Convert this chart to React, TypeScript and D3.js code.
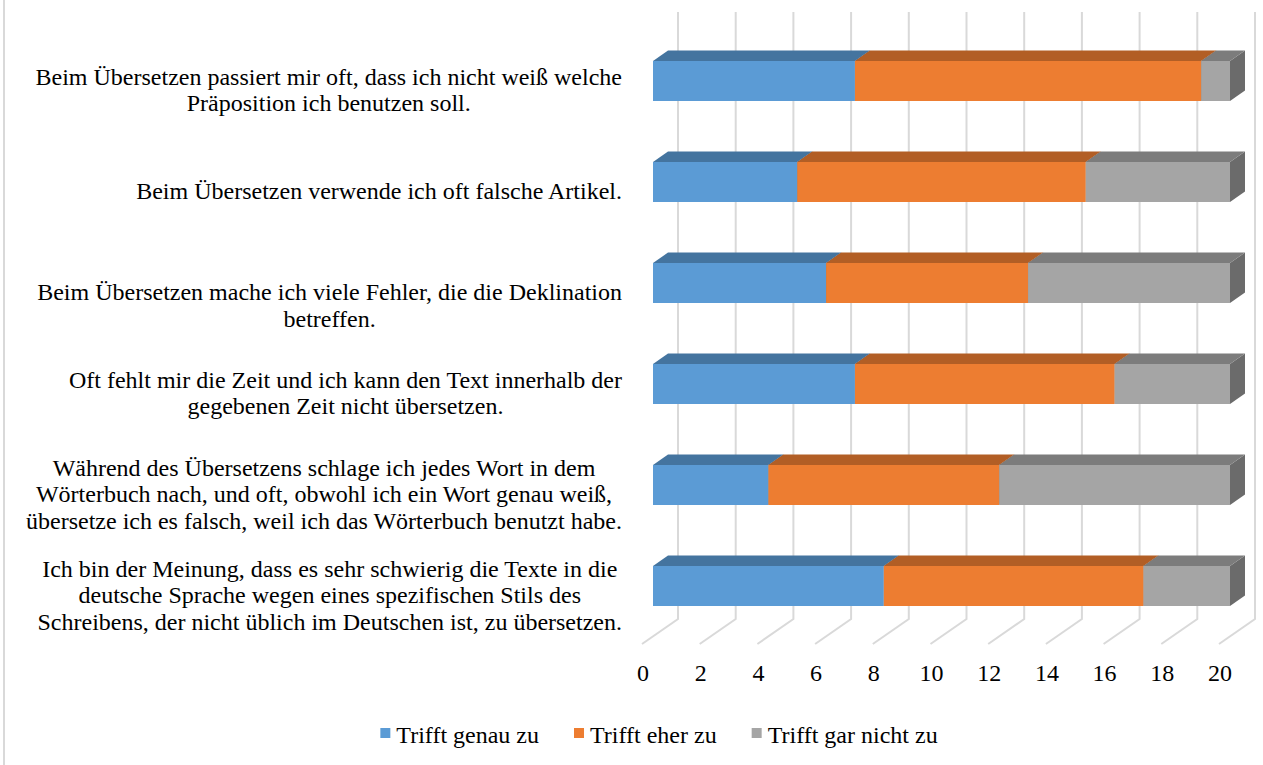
import { useEffect, useRef } from "react";
import * as d3 from "d3";

// category labels, already wrapped the way the original shows them
// (the third one starts with an empty line in the source workbook)
const categoryLines: string[][] = [
  ["Beim Übersetzen passiert mir oft, dass ich nicht weiß welche", "Präposition ich benutzen soll."],
  ["Beim Übersetzen verwende ich oft falsche Artikel."],
  ["", "Beim Übersetzen mache ich viele Fehler, die die Deklination", "betreffen."],
  ["Oft fehlt mir die Zeit und ich kann den Text innerhalb der", "gegebenen Zeit nicht übersetzen."],
  [
    "Während des Übersetzens schlage ich jedes Wort in dem",
    "Wörterbuch nach, und oft, obwohl ich ein Wort genau weiß,",
    "übersetze ich es falsch, weil ich das Wörterbuch benutzt habe.",
  ],
  [
    "Ich bin der Meinung, dass es sehr schwierig die Texte in die",
    "deutsche Sprache wegen eines spezifischen Stils des",
    "Schreibens, der nicht üblich im Deutschen ist, zu übersetzen.",
  ],
];

const seriesNames = ["Trifft genau zu", "Trifft eher zu", "Trifft gar nicht zu"];
const genauZu = [7, 5, 6, 7, 4, 8];
const eherZu = [12, 10, 7, 9, 8, 9];
const garNichtZu = [1, 5, 7, 4, 8, 3];
const xTicks = [0, 2, 4, 6, 8, 10, 12, 14, 16, 18, 20];

const front = ["#5b9bd5", "#ed7d31", "#a5a5a5"];
const top = ["#44749f", "#b25e25", "#7c7c7c"];
const side = ["#3a6489", "#9a5120", "#6b6b6b"];

export default function App() {
  const svgRef = useRef<SVGSVGElement | null>(null);

  useEffect(() => {
    if (!svgRef.current) return;
    const width = 1263;
    const height = 765;
    const font = '"Liberation Serif", "Times New Roman", "DejaVu Serif", serif';

    const svg = d3.select(svgRef.current).attr("width", width).attr("height", height);
    svg.selectAll("*").remove();

    // 3D projection: floor front -> back wall
    const floorFrontX = 642;
    const depthX = 36;
    const depthY = -25;
    const barFrontT = 11 / 36;
    const barBackT = 26 / 36;
    const floorFrontY = 644;
    const wallTop = 12;

    const x = d3.scaleLinear().domain([0, 20]).range([0, 577]);
    const y = d3
      .scaleBand<number>()
      .domain(d3.range(categoryLines.length))
      .range([30.5, 636.5])
      .paddingInner(0.604)
      .paddingOuter(0.302);

    const px = (v: number, t: number) => floorFrontX + x(v) + depthX * t;

    // chart border (left edge only visible)
    svg
      .append("line")
      .attr("x1", 4).attr("x2", 4).attr("y1", 0).attr("y2", height)
      .attr("stroke", "#d9d9d9").attr("stroke-width", 2);

    // gridlines: back wall + floor
    const grid = svg.append("g").attr("fill", "none").attr("stroke", "#d9d9d9").attr("stroke-width", 2);
    xTicks.forEach((v) => {
      grid
        .append("path")
        .attr(
          "d",
          `M${px(v, 1)},${wallTop} L${px(v, 1)},${floorFrontY + depthY} L${px(v, 0)},${floorFrontY}`
        );
    });

    // stacked 3D bars
    const series = [genauZu, eherZu, garNichtZu];
    const stack = d3
      .stack<number>()
      .keys([0, 1, 2] as any)
      .value((i: number, k: any) => series[k][i]);
    const stacked = stack(d3.range(categoryLines.length));

    const bars = svg.append("g");
    const dy = depthY * (barBackT - barFrontT);
    d3.range(categoryLines.length).forEach((i) => {
      const yT = y(i)!;
      const yB = yT + y.bandwidth();
      stacked.forEach((s: any, k: number) => {
        const v0 = s[i][0];
        const v1 = s[i][1];
        const fx0 = px(v0, barFrontT);
        const fx1 = px(v1, barFrontT);
        const bx0 = px(v0, barBackT);
        const bx1 = px(v1, barBackT);
        // right side
        bars
          .append("path")
          .attr("d", `M${fx1},${yT} L${bx1},${yT + dy} L${bx1},${yB + dy} L${fx1},${yB} Z`)
          .attr("fill", side[k]);
        // top face
        bars
          .append("path")
          .attr("d", `M${fx0},${yT} L${bx0},${yT + dy} L${bx1},${yT + dy} L${fx1},${yT} Z`)
          .attr("fill", top[k]);
        // front face
        bars
          .append("rect")
          .attr("x", fx0)
          .attr("y", yT)
          .attr("width", fx1 - fx0)
          .attr("height", y.bandwidth())
          .attr("fill", front[k]);
      });
    });

    // category labels: block right-aligned, lines centred in block
    const lineH = 26.5;
    const labels = svg.append("g").style("font-family", font).attr("font-size", 24).attr("fill", "#000");
    categoryLines.forEach((lines, i) => {
      const cy = y(i)! + y.bandwidth() / 2 + 9;
      const g = labels.append("g");
      const texts = lines.map((ln, j) =>
        g
          .append("text")
          .attr("text-anchor", "middle")
          .attr("y", cy + (j - (lines.length - 1) / 2) * lineH + 8)
          .text(ln)
      );
      const maxW = d3.max(texts, (t) => (t.node() as SVGTextElement).getComputedTextLength()) || 0;
      texts.forEach((t) => t.attr("x", 622 - maxW / 2));
    });

    // value axis labels
    svg
      .append("g")
      .style("font-family", font)
      .attr("font-size", 24)
      .attr("text-anchor", "middle")
      .selectAll("text")
      .data(xTicks)
      .join("text")
      .attr("x", (d: number) => px(d, 0) + 1)
      .attr("y", 681)
      .text((d: number) => `${d}`);

    // legend
    const legend = svg.append("g").style("font-family", font).attr("font-size", 24);
    const items = seriesNames.map((name, k) => {
      const g = legend.append("g");
      g.append("rect").attr("x", 0).attr("y", -15).attr("width", 10).attr("height", 10).attr("fill", front[k]);
      const t = g.append("text").attr("x", 16).attr("y", 0).text(name);
      const w = 16 + (t.node() as SVGTextElement).getComputedTextLength();
      return { g, w };
    });
    const gap = 35;
    const total = d3.sum(items, (d) => d.w) + gap * (items.length - 1);
    let cx = 659 - total / 2;
    items.forEach((it) => {
      it.g.attr("transform", `translate(${cx},743)`);
      cx += it.w + gap;
    });
  }, []);

  return (
    <div style={{ position: "absolute", left: 0, top: 0, background: "#fff" }}>
      <svg ref={svgRef} style={{ display: "block" }}></svg>
    </div>
  );
}
